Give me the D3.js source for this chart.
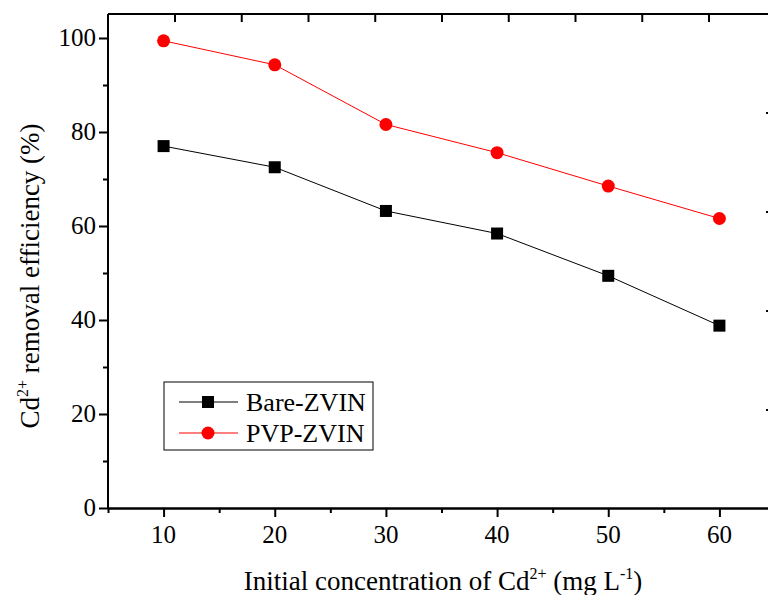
<!DOCTYPE html>
<html><head><meta charset="utf-8">
<script src="https://cdn.jsdelivr.net/npm/d3@7"></script>
<style>body{margin:0;background:#fff}svg{display:block}svg text{font-family:'Liberation Serif','Times New Roman',serif;fill:#000}</style>
</head><body>
<svg id="c" width="768" height="595"></svg>
<script>
const concentrations = [10, 20, 30, 40, 50, 60];
const bareZVIN = [77.0, 72.5, 63.2, 58.4, 49.4, 38.8];
const pvpZVIN = [99.4, 94.3, 81.6, 75.6, 68.5, 61.6];
const seriesNames = ["Bare-ZVIN", "PVP-ZVIN"];
const xTicks = [10, 20, 30, 40, 50, 60];
const yTicks = [0, 20, 40, 60, 80, 100];
const topTicks = [0, 1, 2, 3, 4, 5, 6, 7, 8];
const rightTicks = [1, 2, 3, 4];

const svg = d3.select("#c");
const L = 108, R = 775, T = 14, B = 508;
const x = d3.scaleLinear().domain([5, 65]).range([L, R]);
const y = d3.scaleLinear().domain([0, 100]).range([B, 38]);
const xTop = d3.scaleLinear().domain([0, 8]).range([175, 709]);
const yRight = d3.scaleLinear().domain([1, 4]).range([113, 410]);

// frame top & right
svg.append("line").attr("x1", L).attr("x2", R).attr("y1", T).attr("y2", T).attr("stroke", "#000").attr("stroke-width", 2);
svg.append("line").attr("x1", R).attr("x2", R).attr("y1", T).attr("y2", B).attr("stroke", "#000").attr("stroke-width", 2);
svg.selectAll(".tt").data(topTicks).join("line").attr("x1", d => xTop(d)).attr("x2", d => xTop(d)).attr("y1", T).attr("y2", T + 8).attr("stroke", "#000").attr("stroke-width", 2);
svg.selectAll(".rt").data(rightTicks).join("line").attr("y1", d => yRight(d)).attr("y2", d => yRight(d)).attr("x1", 766).attr("x2", R).attr("stroke", "#000").attr("stroke-width", 2);

// x axis
const gx = svg.append("g").attr("transform", `translate(0,${B})`);
gx.call(d3.axisBottom(x).tickValues(xTicks).tickSize(9).tickSizeOuter(0).tickFormat(""));
gx.append("g").call(d3.axisBottom(x).tickValues([5,15,25,35,45,55,65]).tickSize(5).tickSizeOuter(0).tickFormat(""));
gx.selectAll("path").attr("stroke-width", 2);
gx.selectAll("line").attr("stroke-width", 2);
svg.append("g").selectAll("text").data(xTicks).join("text")
  .attr("x", d => x(d)).attr("y", 543).attr("text-anchor", "middle")
  .style("font-size", "25px").text(d => d);

// y axis
const gy = svg.append("g").attr("transform", `translate(${L},0)`);
gy.call(d3.axisLeft(y).tickValues(yTicks).tickSize(9).tickSizeOuter(0).tickFormat(""));
gy.append("g").call(d3.axisLeft(y).tickValues([10,30,50,70,90]).tickSize(5).tickFormat(""));
gy.selectAll(".domain").remove();
gy.append("line").attr("x1", 0).attr("x2", 0).attr("y1", T).attr("y2", B).attr("stroke", "#000").attr("stroke-width", 2);
gy.selectAll("line").attr("stroke-width", 2);
svg.append("g").selectAll("text").data(yTicks).join("text")
  .attr("x", 96).attr("y", d => y(d) + 8).attr("text-anchor", "end")
  .style("font-size", "25px").text(d => d);

// lines
const line = d3.line().x((d, i) => x(concentrations[i])).y(d => y(d));
svg.append("path").datum(bareZVIN).attr("d", line).attr("fill", "none").attr("stroke", "#000").attr("stroke-width", 1);
svg.append("path").datum(pvpZVIN).attr("d", line).attr("fill", "none").attr("stroke", "#ff0000").attr("stroke-width", 1);
svg.selectAll(".sq").data(bareZVIN).join("rect").attr("x", (d, i) => x(concentrations[i]) - 6).attr("y", d => y(d) - 6).attr("width", 12).attr("height", 12).attr("fill", "#000");
svg.selectAll(".ci").data(pvpZVIN).join("circle").attr("cx", (d, i) => x(concentrations[i])).attr("cy", d => y(d)).attr("r", 6.5).attr("fill", "#ff0000");

// legend
const lg = svg.append("g");
lg.append("rect").attr("x", 164).attr("y", 382).attr("width", 209).attr("height", 68).attr("fill", "#fff").attr("stroke", "#000").attr("stroke-width", 1);
const rows = [{name: seriesNames[0], color: "#000", sym: "sq", yy: 402}, {name: seriesNames[1], color: "#ff0000", sym: "ci", yy: 433}];
rows.forEach(r => {
  lg.append("line").attr("x1", 179).attr("x2", 238).attr("y1", r.yy).attr("y2", r.yy).attr("stroke", r.color).attr("stroke-width", 1);
  if (r.sym === "sq") lg.append("rect").attr("x", 202).attr("y", r.yy - 6).attr("width", 12).attr("height", 12).attr("fill", r.color);
  else lg.append("circle").attr("cx", 208).attr("cy", r.yy).attr("r", 6.5).attr("fill", r.color);
  lg.append("text").attr("x", 246).attr("y", r.yy + 9).style("font-size", "26px").text(r.name);
});

// axis titles
const xt = svg.append("text").attr("x", 443).attr("y", 590).attr("text-anchor", "middle").style("font-size", "27px");
xt.append("tspan").text("Initial concentration of Cd");
xt.append("tspan").style("font-size", "16px").attr("dy", -11).text("2+");
xt.append("tspan").attr("dy", 11).text(" (mg L");
xt.append("tspan").style("font-size", "16px").attr("dy", -11).text("-1");
xt.append("tspan").attr("dy", 11).text(")");

const yt = svg.append("text").attr("transform", "translate(39,276) rotate(-90)").attr("text-anchor", "middle").style("font-size", "27px");
yt.append("tspan").text("Cd");
yt.append("tspan").style("font-size", "16px").attr("dy", -11).text("2+");
yt.append("tspan").attr("dy", 11).text(" removal efficiency (%)");
</script>
</body></html>
